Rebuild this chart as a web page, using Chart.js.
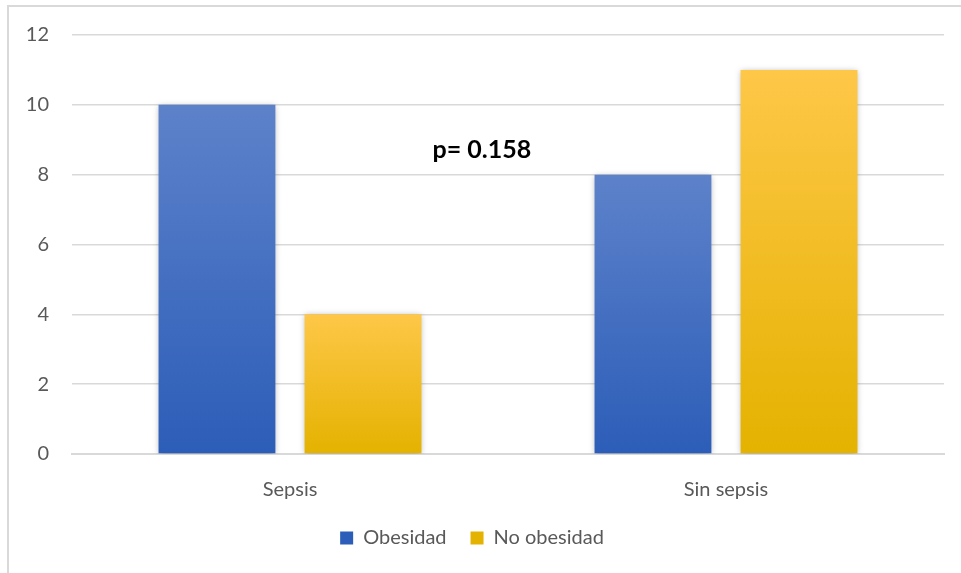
<!DOCTYPE html>
<html lang="es">
  <head>
    <meta charset="UTF-8" />
    <title>Obesidad y sepsis</title>
    <script src="https://cdn.jsdelivr.net/npm/chart.js"></script>
    <style>
      html, body { margin: 0; padding: 0; background: #fff; }
      /* frame around the chart, only left and top edges are visible */
      .frame {
        position: absolute;
        left: 7px;
        top: 5px;
        width: 960px;
        height: 572px;
        border-left: 2px solid #d9d9d9;
        border-top: 2px solid #d9d9d9;
      }
      .wrap { position: absolute; left: 0; top: 0; width: 961px; height: 573px; }
    </style>
  </head>
  <body>
    <div class="frame"></div>
    <div class="wrap"><canvas id="sepsisChart"></canvas></div>

    <script>
      const categories = ["Sepsis", "Sin sepsis"];
      const obesidad = [10, 8];
      const noObesidad = [4, 11];
      const yTicks = [0, 2, 4, 6, 8, 10, 12];
      const pValueText = "p= 0.158";

      const FONT = "Lato, 'Open Sans', sans-serif";
      const GREY = "#595959";
      const BLUE = ["#5d82ca", "#2c5db8"];
      const GOLD = ["#fec748", "#e4b200"];

      // vertical gradient spanning each bar from its top down to the baseline
      function barGradient(top, bottom) {
        return (ctx) => {
          const chart = ctx.chart;
          const y = chart.scales.y;
          if (!chart.chartArea || !y || ctx.raw === undefined) return bottom;
          const y0 = y.getPixelForValue(0);
          const y1 = y.getPixelForValue(ctx.raw);
          if (!isFinite(y0) || !isFinite(y1) || y0 === y1) return bottom;
          const g = chart.ctx.createLinearGradient(0, y1, 0, y0);
          g.addColorStop(0, top);
          g.addColorStop(1, bottom);
          return g;
        };
      }

      // soft shadow under the bars
      const barShadow = {
        id: "barShadow",
        beforeDatasetsDraw(chart) {
          const c = chart.ctx;
          c.save();
          c.shadowColor = "rgba(0, 0, 0, 0.28)";
          c.shadowBlur = 6;
          c.shadowOffsetX = 0;
          c.shadowOffsetY = 1;
        },
        afterDatasetsDraw(chart) {
          chart.ctx.restore();
        },
      };

      // p-value note between the two groups
      const pValueLabel = {
        id: "pValueLabel",
        afterDatasetsDraw(chart) {
          const c = chart.ctx;
          const xs = chart.scales.x;
          const x0 = xs.getPixelForTick(0);
          const x1 = xs.getPixelForTick(1);
          const x = x0 + (x1 - x0) * 0.44;
          const y = chart.scales.y.getPixelForValue(8.7);
          c.save();
          c.font = "bold 25px " + FONT;
          c.fillStyle = "#000";
          c.textAlign = "center";
          c.textBaseline = "middle";
          c.fillText(pValueText, x, y);
          c.restore();
        },
      };

      new Chart(document.getElementById("sepsisChart"), {
        type: "bar",
        data: {
          labels: categories,
          datasets: [
            {
              label: "Obesidad",
              data: obesidad,
              backgroundColor: barGradient(BLUE[0], BLUE[1]),
              borderWidth: 0,
            },
            {
              label: "No obesidad",
              data: noObesidad,
              backgroundColor: barGradient(GOLD[0], GOLD[1]),
              borderWidth: 0,
            },
          ],
        },
        options: {
          responsive: true,
          maintainAspectRatio: false,
          animation: false,
          layout: { padding: { top: 35, right: 17, left: 0, bottom: 15 } },
          datasets: {
            bar: { categoryPercentage: 0.67, barPercentage: 0.8 },
          },
          plugins: {
            legend: {
              position: "bottom",
              labels: {
                color: GREY,
                font: { family: FONT, size: 20 },
                boxWidth: 13,
                boxHeight: 13,
                padding: 24,
                generateLabels(chart) {
                  const fills = [BLUE, GOLD];
                  return chart.data.datasets.map((ds, i) => ({
                    text: ds.label,
                    fillStyle: fills[i][1],
                    strokeStyle: fills[i][1],
                    lineWidth: 0,
                    datasetIndex: i,
                    hidden: false,
                    fontColor: GREY,
                  }));
                },
              },
            },
            tooltip: { enabled: false },
          },
          scales: {
            x: {
              grid: { display: false, drawTicks: false },
              border: { display: true, color: "#d9d9d9", width: 2 },
              ticks: {
                color: GREY,
                font: { family: FONT, size: 20 },
                padding: 24,
              },
              afterFit(scale) {
                scale.height = 50;
              },
            },
            y: {
              min: 0,
              max: 12,
              afterBuildTicks(scale) {
                scale.ticks = yTicks.map((v) => ({ value: v }));
              },
              grid: { color: "#d9d9d9", lineWidth: 1.5, drawTicks: false },
              border: { display: false },
              ticks: {
                color: GREY,
                font: { family: FONT, size: 20 },
                padding: 23,
              },
              afterFit(scale) {
                scale.width = 72;
              },
            },
          },
        },
        plugins: [barShadow, pValueLabel],
      });
    </script>
  </body>
</html>
